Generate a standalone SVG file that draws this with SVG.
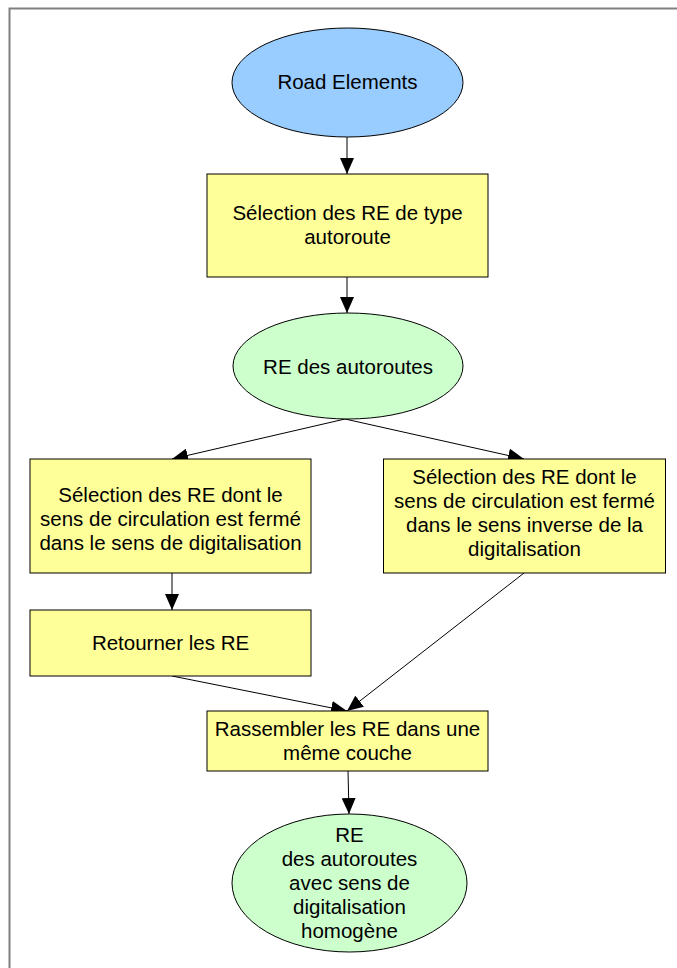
<svg xmlns="http://www.w3.org/2000/svg" width="677" height="968" viewBox="0 0 677 968">
  <style>
    .frame { fill: none; stroke: #808080; stroke-width: 2; }
    .box { fill: #ffff99; stroke: #000; stroke-width: 1; }
    .src { fill: #99ccff; stroke: #000; stroke-width: 1; }
    .data { fill: #ccffcc; stroke: #000; stroke-width: 1; }
    .edge { fill: none; stroke: #000; stroke-width: 1; marker-end: url(#arrow); }
    text { font-family: "Liberation Sans", Arial, sans-serif; font-size: 20.5px; fill: #000; text-anchor: middle; }
  </style>
  <defs>
    <marker id="arrow" markerUnits="userSpaceOnUse" markerWidth="16" markerHeight="14" refX="16" refY="7" orient="auto">
      <path d="M0,0 L16,7 L0,14 Z" fill="#000"/>
    </marker>
  </defs>

  <rect width="677" height="968" fill="#fff"/>
  <!-- page frame (open to the right and bottom) -->
  <path class="frame" d="M9.5,968 L9.5,8.5 L677,8.5"/>

  <g id="connectors">
    <line class="edge" x1="347" y1="137" x2="347" y2="174"/>
    <line class="edge" x1="347" y1="277" x2="347" y2="313"/>
    <line class="edge" x1="345" y1="419" x2="172" y2="459"/>
    <line class="edge" x1="345" y1="419" x2="524" y2="459"/>
    <line class="edge" x1="172" y1="573" x2="172" y2="610"/>
    <line class="edge" x1="172" y1="676" x2="347" y2="711"/>
    <line class="edge" x1="524" y1="573" x2="347" y2="711"/>
    <line class="edge" x1="348" y1="771" x2="349" y2="814"/>
  </g>

  <g id="road-elements">
    <ellipse class="src" cx="347.5" cy="82.5" rx="115.5" ry="54.5"/>
    <text x="347.5" y="88.5">Road Elements</text>
  </g>

  <g id="select-autoroute">
    <rect class="box" x="207" y="174" width="281" height="103"/>
    <text x="347.5" y="220">Sélection des RE de type</text>
    <text x="347.5" y="244">autoroute</text>
  </g>

  <g id="re-autoroutes">
    <ellipse class="data" cx="348" cy="366" rx="115" ry="53"/>
    <text x="348" y="374">RE des autoroutes</text>
  </g>

  <g id="select-closed-forward">
    <rect class="box" x="30" y="459" width="281" height="114"/>
    <text x="170.5" y="501.5">Sélection des RE dont le</text>
    <text x="170.5" y="525.5">sens de circulation est fermé</text>
    <text x="170.5" y="549.5">dans le sens de digitalisation</text>
  </g>

  <g id="select-closed-reverse">
    <rect class="box" x="383.5" y="459" width="282" height="114"/>
    <text x="524.5" y="484">Sélection des RE dont le</text>
    <text x="524.5" y="508">sens de circulation est fermé</text>
    <text x="524.5" y="532">dans le sens inverse de la</text>
    <text x="524.5" y="556">digitalisation</text>
  </g>

  <g id="reverse-re">
    <rect class="box" x="30" y="610" width="281" height="66"/>
    <text x="170.5" y="650">Retourner les RE</text>
  </g>

  <g id="merge-re">
    <rect class="box" x="207" y="711" width="281" height="60"/>
    <text x="347.5" y="735.5">Rassembler les RE dans une</text>
    <text x="347.5" y="759.5">même couche</text>
  </g>

  <g id="re-homogeneous">
    <ellipse class="data" cx="349.5" cy="883" rx="117.5" ry="69"/>
    <text x="349.5" y="842">RE</text>
    <text x="349.5" y="866">des autoroutes</text>
    <text x="349.5" y="890">avec sens de</text>
    <text x="349.5" y="913.8">digitalisation</text>
    <text x="349.5" y="937.6">homogène</text>
  </g>
</svg>
